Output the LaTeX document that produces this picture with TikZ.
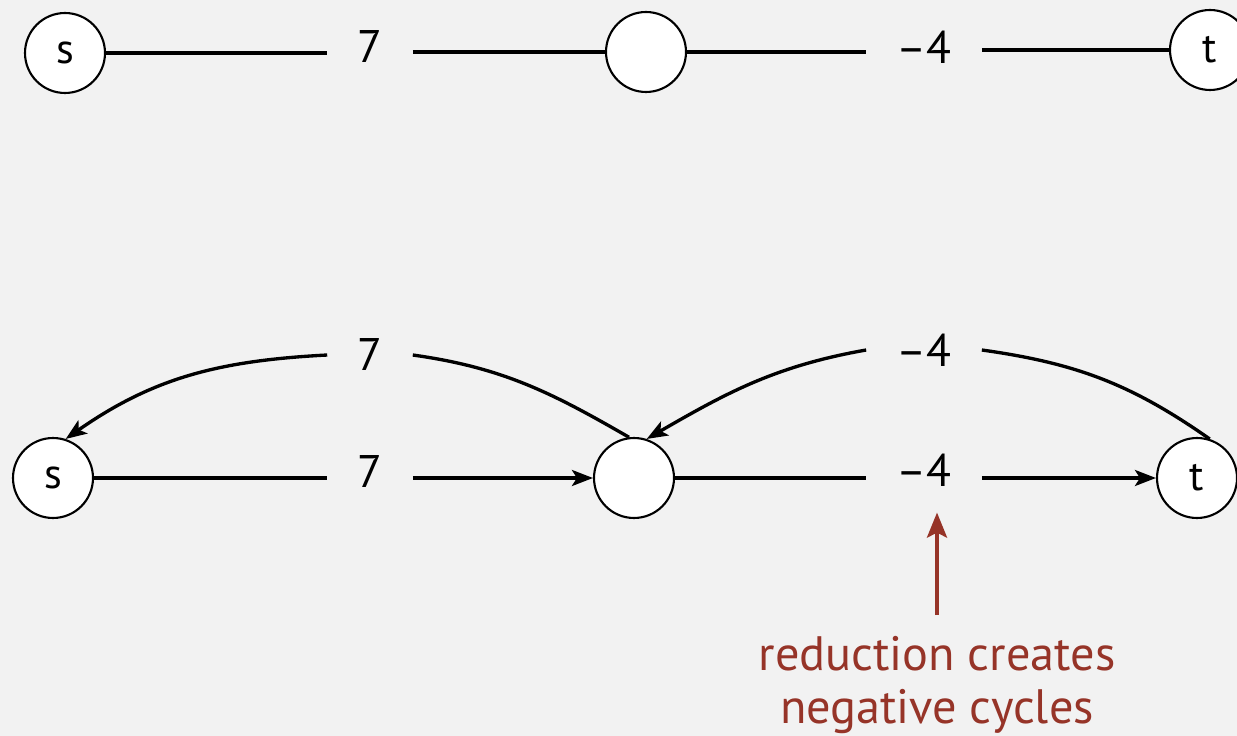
\documentclass[tikz,border=0pt]{standalone}
\usepackage{fontspec}
\setmainfont{PT Sans}
\usetikzlibrary{arrows.meta}
\definecolor{bgray}{RGB}{242,242,242}
\definecolor{reddish}{RGB}{150,52,40}
\tikzset{
  vtx/.style={circle,draw,fill=white,line width=1.2pt,minimum size=1.6cm,inner sep=0pt,font=\fontsize{24}{28}\selectfont},
  wt/.style={inner xsep=0.6cm,inner ysep=2pt,font=\fontsize{26}{30}\selectfont},
  edge/.style={line width=1.9pt},
}
\begin{document}
\begin{tikzpicture}[x=0.02cm,y=-0.02cm,>={Stealth[length=0.42cm,width=0.32cm,inset=0.1cm]}]
    \fill[bgray] (0,0) rectangle (1237,736);
    \useasboundingbox (0,0) rectangle (1237,736);
%    undirected graph
    \node[vtx] (s1) at (65,53) {s};
    \node[vtx] (v1) at (646,52) {};
    \node[vtx] (t1) at (1210,50) {t};
    \node[wt] (w1) at (370,47) {7};
    \node[wt] (w2) at (924,47) {–4};
    \draw[edge] (s1.east) -- (s1.east -| w1.west);
    \draw[edge] (w1.east |- v1.west) -- (v1.west);
    \draw[edge] (v1.east) -- (v1.east -| w2.west);
    \draw[edge] (w2.east |- t1.west) -- (t1.west);
%    directed version
    \node[vtx] (s2) at (53,478) {s};
    \node[vtx] (v2) at (634,478) {};
    \node[vtx] (t2) at (1197,478) {t};
    \node[wt] (w3) at (370,355) {7};
    \node[wt] (w4) at (924,350) {–4};
    \node[wt] (w5) at (370,472) {7};
    \node[wt] (w6) at (924,470) {–4};
    \draw[edge] (s2.east) -- (s2.east -| w5.west);
    \draw[edge,->] (w5.east |- v2.west) -- (v2.west);
    \draw[edge] (v2.east) -- (v2.east -| w6.west);
    \draw[edge,->] (w6.east |- t2.west) -- (t2.west);
    \draw[edge] (v2.97) to[out=150,in=-8] (w3.east);
    \draw[edge,->] (w3.west) to[out=183,in=35] (s2.72);
    \draw[edge] (t2.72) to[out=145,in=-8] (w4.east);
    \draw[edge,->] (w4.west) to[out=190,in=30] (v2.72);
%    note
    \node[reddish,align=center,anchor=north,inner sep=0pt,font=\fontsize{27.5}{30}\selectfont] (note) at (937,636) {reduction creates\\negative cycles};
    \draw[reddish,line width=2.2pt,-{Stealth[length=0.5cm,width=0.4cm,inset=0.1cm]},shorten <=0.42cm,shorten >=0.45cm] (note.north) -- (note.north |- w6.south);
\end{tikzpicture}
\end{document}
